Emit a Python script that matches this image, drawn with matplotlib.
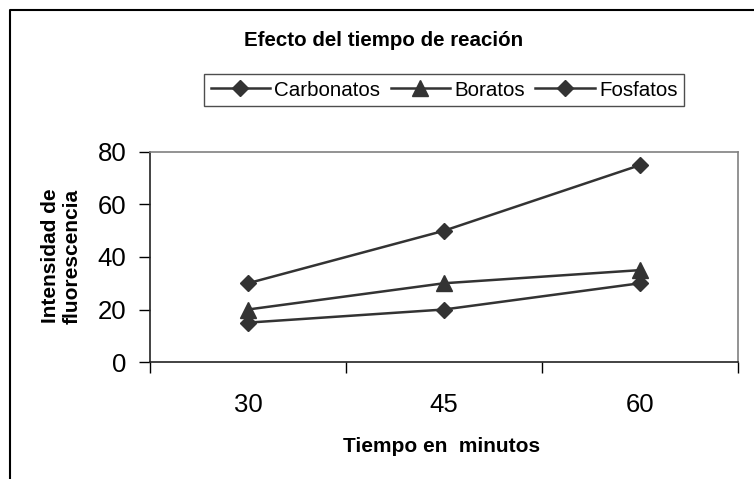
import matplotlib.pyplot as plt
from matplotlib.lines import Line2D

plt.rcParams['font.family'] = ['Liberation Sans', 'DejaVu Sans']

tiempos = ["30", "45", "60"]
carbonatos = [30, 50, 75]
boratos = [20, 30, 35]
fosfatos = [15, 20, 30]

color = "#333333"

fig = plt.figure(figsize=(7.54, 4.79), dpi=100)
ax = fig.add_axes([150 / 754, 1 - 362 / 479, 588 / 754, 210 / 479])

x = [i + 0.5 for i in range(len(tiempos))]
ax.plot(x, carbonatos, color=color, lw=1.8, marker="D", ms=8.5, label="Carbonatos")
ax.plot(x, boratos, color=color, lw=1.8, marker="^", ms=11, label="Boratos")
ax.plot(x, fosfatos, color=color, lw=1.8, marker="D", ms=8.5, label="Fosfatos")

ax.set_xlim(0, len(tiempos))
ax.set_ylim(0, 80)
ax.set_yticks([0, 20, 40, 60, 80])
ax.set_xticks(range(len(tiempos) + 1))
ax.set_xticklabels([])
ax.set_xticks(x, minor=True)
ax.set_xticklabels(tiempos, minor=True)
ax.tick_params(axis="x", which="major", length=8, width=1, direction="out")
ax.tick_params(axis="x", which="minor", length=0, pad=22, labelsize=18.5)
ax.tick_params(axis="y", length=8, width=1, direction="out", pad=9, labelsize=18.5)

for s in ["top", "right"]:
    ax.spines[s].set_color("#808080")
    ax.spines[s].set_linewidth(1.2)
for s in ["left", "bottom"]:
    ax.spines[s].set_color("#222222")
    ax.spines[s].set_linewidth(1.2)

fig.text(384 / 754, 1 - 40 / 479, "Efecto del tiempo de reación",
         ha="center", va="center", fontsize=14.8, fontweight="bold")
fig.text(442 / 754, 1 - 447 / 479, "Tiempo en  minutos",
         ha="center", va="center", fontsize=15, fontweight="bold")
fig.text(61 / 754, 1 - 256 / 479, "Intensidad de\nfluorescencia",
         ha="center", va="center", rotation=90, fontsize=15,
         fontweight="bold", multialignment="center", linespacing=1.2)

leg = fig.legend(loc="center", bbox_to_anchor=(444 / 754, 1 - 90 / 479),
                 ncol=3, fontsize=14.8, frameon=True, fancybox=False,
                 edgecolor="#222222", handlelength=2.9, handletextpad=0.2,
                 columnspacing=0.5, borderpad=0.3, borderaxespad=0)
leg.get_frame().set_linewidth(1.0)

# marco del grafico
fig.add_artist(Line2D([9.5 / 754, 9.5 / 754, 1], [0, 1 - 10 / 479, 1 - 10 / 479],
                      transform=fig.transFigure, color="black", lw=1.5))

fig.savefig("out.png", dpi=100)
